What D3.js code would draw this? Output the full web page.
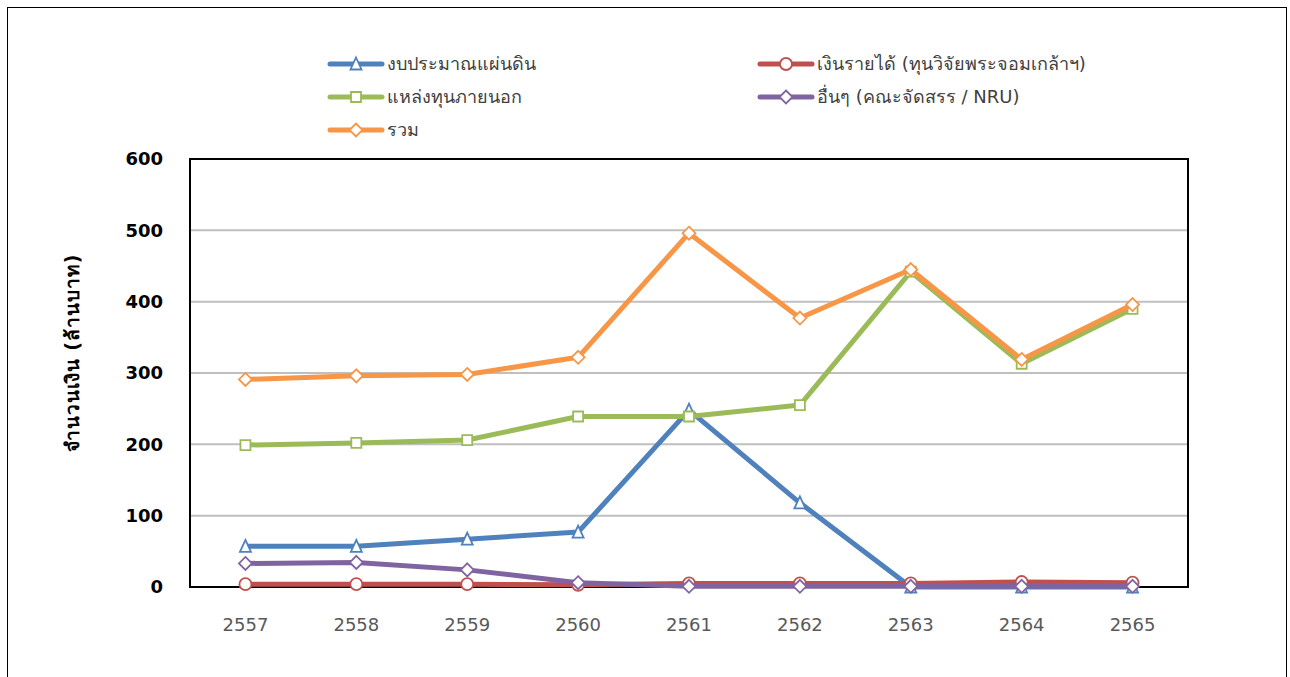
<!DOCTYPE html>
<html><head><meta charset="utf-8">
<script src="https://cdn.jsdelivr.net/npm/d3@7"></script>
<style>body{margin:0;background:#fff;} svg{display:block;}</style>
</head><body>
<svg id="chart" width="1290" height="677"></svg>
<script>
const years = ["2557","2558","2559","2560","2561","2562","2563","2564","2565"];
const budget = [57, 57, 67, 77, 248, 118, 0, 0, 0];
const revenue = [4, 4, 4, 3, 5, 5, 5, 7, 6];
const external = [199, 202, 206, 239, 239, 255, 442, 313, 390];
const others = [33, 34.5, 24, 6, 1, 1, 1, 1, 1];
const total = [291, 296, 298, 322, 496, 377, 445, 319, 396];
const yTicks = [0, 100, 200, 300, 400, 500, 600];
const seriesNames = ["งบประมาณแผ่นดิน","เงินรายได้ (ทุนวิจัยพระจอมเกล้าฯ)","แหล่งทุนภายนอก","อื่นๆ (คณะจัดสรร / NRU)","รวม"];
const yTitle = "จำนวนเงิน (ล้านบาท)";

const series = [
  {name: seriesNames[0], values: budget, color: "#4f81bd", marker: "triangle"},
  {name: seriesNames[1], values: revenue, color: "#c0504d", marker: "circle"},
  {name: seriesNames[2], values: external, color: "#9bbb59", marker: "square"},
  {name: seriesNames[3], values: others, color: "#8064a2", marker: "diamond"},
  {name: seriesNames[4], values: total, color: "#f79646", marker: "diamond"}
];

const font = "Tahoma, 'DejaVu Sans', 'Noto Sans', sans-serif";
const svg = d3.select("#chart");
svg.append("rect").attr("x",7.5).attr("y",7.5).attr("width",1279).attr("height",700)
  .attr("fill","none").attr("stroke","#000").attr("stroke-width",1);

const L = 190, R = 1188, T = 159, B = 587;
const x = d3.scaleBand().domain(years).range([L, R]);
const y = d3.scaleLinear().domain([0, 600]).range([B, T]);

// gridlines
svg.append("g").selectAll("line").data(yTicks.filter(t => t > 0 && t < 600)).join("line")
  .attr("x1", L).attr("x2", R).attr("y1", d => y(d)).attr("y2", d => y(d))
  .attr("stroke", "#bfbfbf").attr("stroke-width", 2);

// plot box
svg.append("rect").attr("x", L).attr("y", T).attr("width", R-L).attr("height", B-T)
  .attr("fill","none").attr("stroke","#000").attr("stroke-width",2);

// y axis
const yAxis = svg.append("g").attr("transform", `translate(${L},0)`)
  .call(d3.axisLeft(y).tickValues(yTicks).tickSize(0).tickPadding(27));
yAxis.select(".domain").remove();
yAxis.selectAll("text").attr("font-family", font).attr("font-size", 18).attr("font-weight","bold").attr("fill","#000");

// x axis
const xAxis = svg.append("g").attr("transform", `translate(0,${B})`)
  .call(d3.axisBottom(x).tickSize(0).tickPadding(31));
xAxis.select(".domain").remove();
xAxis.selectAll("text").attr("font-family", font).attr("font-size", 18).attr("fill","#595959");

// y title
svg.append("text").attr("transform", "translate(79,353) rotate(-90)")
  .attr("text-anchor","middle").attr("font-family", font).attr("font-size", 19).attr("font-weight","bold")
  .attr("letter-spacing", 1)
  .attr("fill","#000").text(yTitle);

function markerPath(type) {
  const s = 5.5;
  if (type === "triangle") return `M0,${-s-1}L${s},${s}L${-s},${s}Z`;
  if (type === "square") return `M${-s+0.5},${-s+0.5}H${s-0.5}V${s-0.5}H${-s+0.5}Z`;
  if (type === "diamond") return `M0,${-s-1}L${s+1},0L0,${s+1}L${-s-1},0Z`;
  return null;
}
function drawMarker(g, type, color, cx, cy) {
  if (type === "circle") {
    g.append("circle").attr("cx", cx).attr("cy", cy).attr("r", 6)
      .attr("fill","#fff").attr("stroke", color).attr("stroke-width", 1.8);
  } else {
    g.append("path").attr("d", markerPath(type)).attr("transform", `translate(${cx},${cy})`)
      .attr("fill","#fff").attr("stroke", color).attr("stroke-width", 1.8).attr("stroke-linejoin","miter");
  }
}

const line = d3.line().x((d,i) => x(years[i]) + x.bandwidth()/2).y(d => y(d));
series.forEach(s => {
  const g = svg.append("g");
  g.append("path").datum(s.values).attr("d", line).attr("fill","none")
    .attr("stroke", s.color).attr("stroke-width", 5).attr("stroke-linejoin","round").attr("stroke-linecap","round");
  s.values.forEach((v,i) => drawMarker(g, s.marker, s.color, x(years[i]) + x.bandwidth()/2, y(v)));
});

// legend
const legendPos = [[330,64],[760,64],[330,97],[760,97],[330,130]];
series.forEach((s, i) => {
  const [lx, ly] = legendPos[i];
  const g = svg.append("g");
  g.append("line").attr("x1", lx).attr("x2", lx+52).attr("y1", ly).attr("y2", ly)
    .attr("stroke", s.color).attr("stroke-width", 5).attr("stroke-linecap","round");
  drawMarker(g, s.marker, s.color, lx+26, ly);
  g.append("text").attr("x", lx+57).attr("y", ly).attr("dy","0.35em")
    .attr("font-family", font).attr("font-size", 18).attr("fill","#404040").text(s.name);
});
</script>
</body></html>
